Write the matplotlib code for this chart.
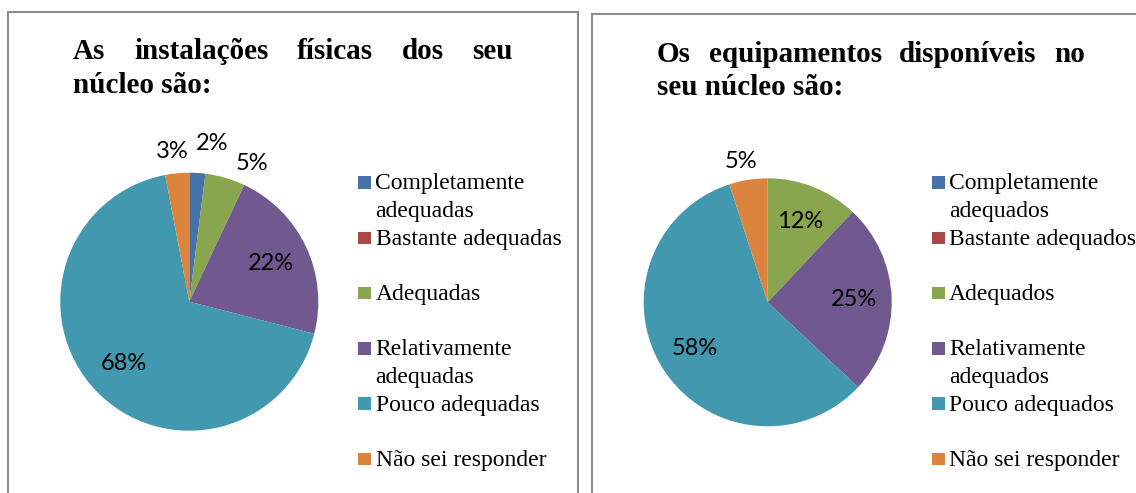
import numpy as np
import matplotlib.pyplot as plt
from matplotlib.patches import Rectangle

W, H = 1136, 493

# dados
titulo_esq = ['As instalações físicas dos seu', 'núcleo são:']
categorias_esq = ['Completamente\nadequadas', 'Bastante adequadas', 'Adequadas',
                  'Relativamente\nadequadas', 'Pouco adequadas', 'Não sei responder']
valores_esq = [2, 0, 5, 22, 68, 3]

titulo_dir = ['Os equipamentos disponíveis no', 'seu núcleo são:']
categorias_dir = ['Completamente\nadequados', 'Bastante adequados', 'Adequados',
                  'Relativamente\nadequados', 'Pouco adequados', 'Não sei responder']
valores_dir = [0, 0, 12, 25, 58, 5]

cores = ['#4572A7', '#AA4643', '#89A54E', '#71588F', '#4198AF', '#DB843D']

SERIF = 'Liberation Serif'
LABEL_FONT = 'Lato'


def px(x, y):
    # pixel coords (origin top-left) -> figure fraction
    return x / W, 1 - y / H


def justified(fig, words, x0, x1, y, **kw):
    r = fig.canvas.get_renderer()
    arts = [fig.text(0, 0, w, va='baseline', ha='left', **kw) for w in words]
    widths = [a.get_window_extent(r).width for a in arts]
    gap = (x1 - x0 - sum(widths)) / (len(words) - 1)
    x = x0
    for a, w in zip(arts, widths):
        a.set_position(px(x, y))
        x += w + gap


def panel(fig, valores, categorias, titulo, box, centre, radius, title_x, title_y,
          legend_x, nudges):
    # moldura (left, top, right) - bottom runs past the image
    bx0, by, bx1 = box
    fig.patches.append(Rectangle(px(bx0, 505), (bx1 - bx0) / W, (505 - by) / H,
                                 transform=fig.transFigure, fill=False,
                                 edgecolor='#8c8c8c', linewidth=1.5, clip_on=False))

    # título justificado
    tkw = dict(fontsize=21, fontweight='bold', family=SERIF)
    justified(fig, titulo[0].split(), title_x[0], title_x[1], title_y[0], **tkw)
    fig.text(*px(title_x[0], title_y[1]), titulo[1], va='baseline', ha='left', **tkw)

    # pizza
    cx, cy = centre
    ax = fig.add_axes([(cx - radius) / W, (H - cy - radius) / H, 2 * radius / W, 2 * radius / H])
    wedges, _ = ax.pie(valores, colors=cores, startangle=90, counterclock=False,
                       radius=1, wedgeprops=dict(linewidth=0))
    ax.set_xlim(-1, 1)
    ax.set_ylim(-1, 1)
    ax.axis('off')

    for i, (w, v) in enumerate(zip(wedges, valores)):
        if v == 0:
            continue
        mid = (w.theta1 + w.theta2) / 2
        if v >= 10:
            dist = 0.7
        else:
            nudge, dist = nudges.get(i, (0, 1.18))
            mid -= nudge
        a = np.deg2rad(mid)
        ax.text(dist * np.cos(a), dist * np.sin(a), f'{v}%', ha='center', va='center',
                fontsize=17, family=LABEL_FONT, color='black')

    # legenda
    mx, tx = legend_x
    for i, (lab, c) in enumerate(zip(categorias, cores)):
        y = 182.5 + i * 55.3
        fig.patches.append(Rectangle(px(mx, y + 6.2), 12.5 / W, 12.5 / H,
                                     transform=fig.transFigure, facecolor=c,
                                     edgecolor='none'))
        for j, line in enumerate(lab.split('\n')):
            fig.text(*px(tx, y + 7 + j * 27.4), line, va='baseline', ha='left',
                     fontsize=17, family=SERIF, color='black')


fig = plt.figure(figsize=(W / 100, H / 100), dpi=100)

panel(fig, valores_esq, categorias_esq, titulo_esq, box=(8, 12, 578), centre=(189.3, 301.7),
      radius=129, title_x=(73, 513), title_y=(58.5, 92.7), legend_x=(358.3, 375.5),
      nudges={0: (4.5, 1.24), 2: (8.2, 1.18), 5: (-1.1, 1.17)})

panel(fig, valores_dir, categorias_dir, titulo_dir, box=(592, 14, W + 20), centre=(767.7, 302.3),
      radius=124, title_x=(657, 1085), title_y=(61.5, 95), legend_x=(932.3, 949),
      nudges={5: (-1.8, 1.16)})

fig.savefig('out.png', dpi=100)
